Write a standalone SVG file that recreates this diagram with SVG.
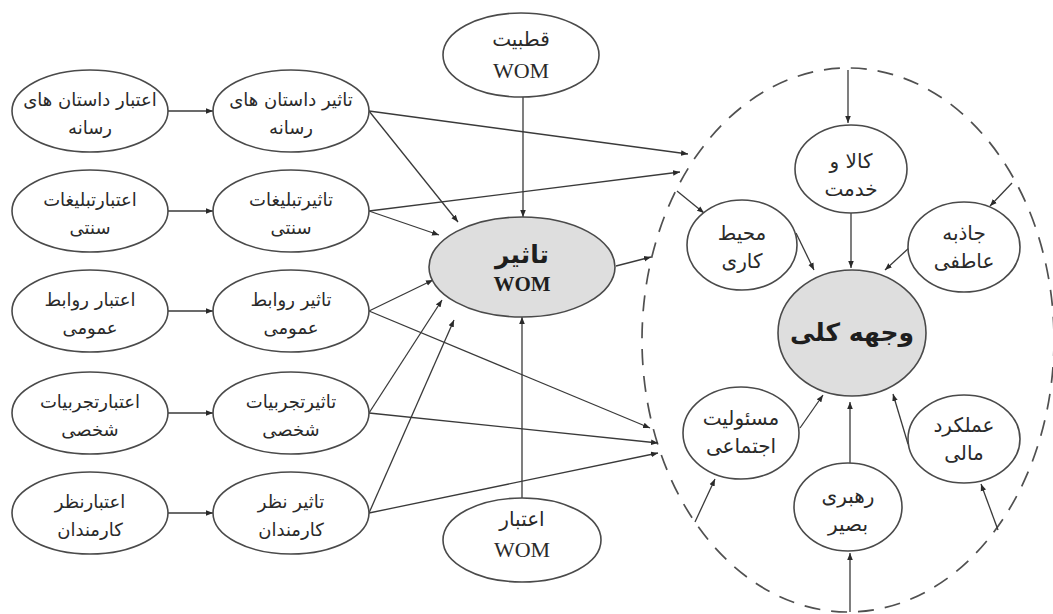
<svg xmlns="http://www.w3.org/2000/svg" width="1053" height="614" viewBox="0 0 1053 614">
  <style>
    .node { fill: #ffffff; stroke: #4a4a4a; stroke-width: 1.6; }
    .core { fill: #dedede; stroke: #4a4a4a; stroke-width: 1.6; }
    .fa { font-family: "DejaVu Sans", sans-serif; font-size: 18px; fill: #2a2a2a; text-anchor: middle; }
    .fa-in { font-family: "DejaVu Sans", sans-serif; font-size: 20px; fill: #2a2a2a; text-anchor: middle; }
    .fa-b { font-family: "DejaVu Sans", sans-serif; font-size: 25px; font-weight: bold; fill: #1e1e1e; text-anchor: middle; }
    .en { font-family: "Liberation Serif", serif; font-size: 22px; fill: #2a2a2a; text-anchor: middle; }
    .en-b { font-family: "Liberation Serif", serif; font-size: 21px; font-weight: bold; fill: #1e1e1e; text-anchor: middle; }
    .link { stroke: #3a3a3a; stroke-width: 1.3; fill: none; marker-end: url(#tip); }
    .bound { fill: none; stroke: #505050; stroke-width: 1.7; stroke-dasharray: 16 11; }
  </style>
  <defs>
    <marker id="tip" viewBox="0 0 10 10" refX="10" refY="5" markerWidth="7" markerHeight="7" markerUnits="userSpaceOnUse" orient="auto">
      <path d="M0,1 L10,5 L0,9 z" fill="#2a2a2a"/>
    </marker>
  </defs>

  <rect width="1053" height="614" fill="#ffffff"/>

  <!-- dashed boundary of the overall-image construct -->
  <ellipse class="bound" cx="848" cy="340" rx="206" ry="272"/>

  <!-- connectors -->
  <g id="connectors">
    <!-- credibility -> impact -->
    <line class="link" x1="168" y1="111" x2="213" y2="111"/>
    <line class="link" x1="168" y1="211" x2="213" y2="211"/>
    <line class="link" x1="168" y1="311" x2="213" y2="311"/>
    <line class="link" x1="168" y1="413" x2="213" y2="413"/>
    <line class="link" x1="168" y1="513" x2="213" y2="513"/>
    <!-- impact sources -> WOM impact -->
    <line class="link" x1="369" y1="111" x2="458" y2="222"/>
    <line class="link" x1="369" y1="211" x2="439" y2="235"/>
    <line class="link" x1="369" y1="311" x2="433" y2="280"/>
    <line class="link" x1="369" y1="413" x2="442" y2="300"/>
    <line class="link" x1="369" y1="513" x2="454" y2="320"/>
    <!-- impact sources -> overall image -->
    <line class="link" x1="369" y1="111" x2="688" y2="154"/>
    <line class="link" x1="369" y1="211" x2="680" y2="172"/>
    <line class="link" x1="369" y1="311" x2="650" y2="428"/>
    <line class="link" x1="369" y1="413" x2="658" y2="443"/>
    <line class="link" x1="369" y1="513" x2="658" y2="453"/>
    <!-- WOM polarity / credibility / impact -->
    <line class="link" x1="523" y1="97" x2="523" y2="217"/>
    <line class="link" x1="522" y1="498" x2="522" y2="317"/>
    <line class="link" x1="616" y1="266" x2="651" y2="257"/>
    <!-- boundary -> dimensions -->
    <line class="link" x1="848" y1="70" x2="848" y2="123"/>
    <line class="link" x1="1012" y1="183" x2="990" y2="206"/>
    <line class="link" x1="677" y1="191" x2="704" y2="213"/>
    <line class="link" x1="695" y1="522" x2="715" y2="479"/>
    <line class="link" x1="850" y1="612" x2="850" y2="553"/>
    <line class="link" x1="998" y1="530" x2="981" y2="484"/>
    <!-- dimensions -> overall image -->
    <line class="link" x1="851" y1="213" x2="851" y2="268"/>
    <line class="link" x1="796" y1="233" x2="814" y2="270"/>
    <line class="link" x1="910" y1="247" x2="885" y2="270"/>
    <line class="link" x1="800" y1="428" x2="823" y2="395"/>
    <line class="link" x1="850" y1="463" x2="850" y2="402"/>
    <line class="link" x1="908" y1="444" x2="893" y2="394"/>
  </g>

  <!-- credibility column -->
  <g id="cred-media">
    <ellipse class="node" cx="90" cy="111" rx="78" ry="41"/>
    <text class="fa" x="90" y="106">اعتبار داستان های</text>
    <text class="fa" x="90" y="134">رسانه</text>
  </g>
  <g id="cred-ads">
    <ellipse class="node" cx="90" cy="211" rx="78" ry="41"/>
    <text class="fa" x="90" y="206">اعتبارتبلیغات</text>
    <text class="fa" x="90" y="234">سنتی</text>
  </g>
  <g id="cred-pr">
    <ellipse class="node" cx="90" cy="311" rx="78" ry="41"/>
    <text class="fa" x="90" y="306">اعتبار روابط</text>
    <text class="fa" x="90" y="334">عمومی</text>
  </g>
  <g id="cred-exp">
    <ellipse class="node" cx="90" cy="413" rx="78" ry="41"/>
    <text class="fa" x="90" y="408">اعتبارتجربیات</text>
    <text class="fa" x="90" y="436">شخصی</text>
  </g>
  <g id="cred-staff">
    <ellipse class="node" cx="90" cy="513" rx="78" ry="41"/>
    <text class="fa" x="90" y="508">اعتبارنظر</text>
    <text class="fa" x="90" y="536">کارمندان</text>
  </g>

  <!-- impact column -->
  <g id="imp-media">
    <ellipse class="node" cx="291" cy="111" rx="78" ry="41"/>
    <text class="fa" x="291" y="106">تاثیر داستان های</text>
    <text class="fa" x="291" y="134">رسانه</text>
  </g>
  <g id="imp-ads">
    <ellipse class="node" cx="291" cy="211" rx="78" ry="41"/>
    <text class="fa" x="291" y="206">تاثیرتبلیغات</text>
    <text class="fa" x="291" y="234">سنتی</text>
  </g>
  <g id="imp-pr">
    <ellipse class="node" cx="291" cy="311" rx="78" ry="41"/>
    <text class="fa" x="291" y="306">تاثیر روابط</text>
    <text class="fa" x="291" y="334">عمومی</text>
  </g>
  <g id="imp-exp">
    <ellipse class="node" cx="291" cy="413" rx="78" ry="41"/>
    <text class="fa" x="291" y="408">تاثیرتجربیات</text>
    <text class="fa" x="291" y="436">شخصی</text>
  </g>
  <g id="imp-staff">
    <ellipse class="node" cx="291" cy="513" rx="78" ry="41"/>
    <text class="fa" x="291" y="508">تاثیر نظر</text>
    <text class="fa" x="291" y="536">کارمندان</text>
  </g>

  <!-- WOM nodes -->
  <g id="wom-polarity">
    <ellipse class="node" cx="521" cy="55" rx="78" ry="42"/>
    <text class="fa-in" x="521" y="46">قطبیت</text>
    <text class="en" x="521" y="78">WOM</text>
  </g>
  <g id="wom-impact">
    <ellipse class="core" cx="522" cy="267" rx="93" ry="50"/>
    <text class="fa-b" x="522" y="263">تاثیر</text>
    <text class="en-b" x="522" y="291">WOM</text>
  </g>
  <g id="wom-credibility">
    <ellipse class="node" cx="522" cy="540" rx="79" ry="42"/>
    <text class="fa-in" x="522" y="526">اعتبار</text>
    <text class="en" x="522" y="557">WOM</text>
  </g>

  <!-- overall image and its dimensions -->
  <g id="overall-image">
    <ellipse class="core" cx="852" cy="333" rx="74" ry="63"/>
    <text class="fa-b" x="852" y="341">وجهه کلی</text>
  </g>
  <g id="dim-products">
    <ellipse class="node" cx="851" cy="169" rx="56" ry="44"/>
    <text class="fa-in" x="851" y="168">کالا و</text>
    <text class="fa-in" x="851" y="196">خدمت</text>
  </g>
  <g id="dim-workplace">
    <ellipse class="node" cx="742" cy="245" rx="55" ry="45"/>
    <text class="fa-in" x="742" y="240">محیط</text>
    <text class="fa-in" x="742" y="268">کاری</text>
  </g>
  <g id="dim-emotional">
    <ellipse class="node" cx="964" cy="247" rx="56" ry="45"/>
    <text class="fa-in" x="964" y="240">جاذبه</text>
    <text class="fa-in" x="964" y="268">عاطفی</text>
  </g>
  <g id="dim-social">
    <ellipse class="node" cx="741" cy="433" rx="58" ry="46"/>
    <text class="fa-in" x="741" y="425">مسئولیت</text>
    <text class="fa-in" x="741" y="453">اجتماعی</text>
  </g>
  <g id="dim-leadership">
    <ellipse class="node" cx="848" cy="507" rx="54" ry="44"/>
    <text class="fa-in" x="848" y="503">رهبری</text>
    <text class="fa-in" x="848" y="531">بصیر</text>
  </g>
  <g id="dim-financial">
    <ellipse class="node" cx="964" cy="439" rx="56" ry="44"/>
    <text class="fa-in" x="964" y="432">عملکرد</text>
    <text class="fa-in" x="964" y="460">مالی</text>
  </g>
</svg>
